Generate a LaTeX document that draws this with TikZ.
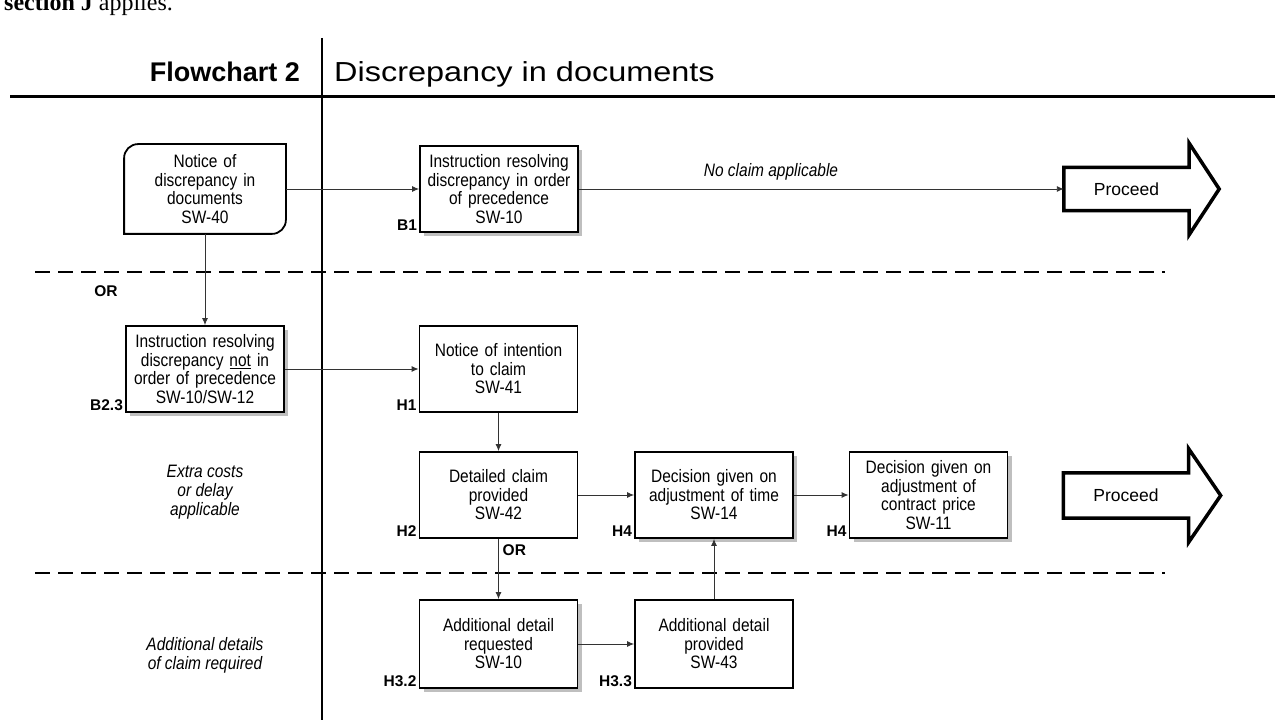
\documentclass[tikz,border=0pt]{standalone}
\usepackage{fontspec}
\setmainfont{Liberation Sans}
\newfontfamily\boxfont{Liberation Sans}[FakeStretch=0.86]
\newfontfamily\titlefont{Liberation Sans}[FakeStretch=1.18]
\newfontfamily\bookfont{Liberation Serif}
\usetikzlibrary{arrows.meta,shadows,positioning}

\begin{document}
\begin{tikzpicture}[x=1pt,y=1pt,
    box/.style={draw,line width=1.8pt,fill=white,minimum width=158pt,minimum height=86pt,
      text width=154pt,align=center,inner sep=0pt,font=\boxfont\fontsize{18}{18.5}\selectfont},
    shbox/.style={box,drop shadow={shadow xshift=4pt,shadow yshift=-4pt,fill=black!50}},
    tag/.style={font=\bfseries\fontsize{15.5}{15.5}\selectfont,inner sep=1pt},
    note/.style={font=\boxfont\itshape\fontsize{18}{19}\selectfont,align=center},
    conn/.style={-{Latex[length=7pt,width=6pt]},line width=0.9pt,black!80},
    sep/.style={line width=2.5pt,dash pattern=on 15pt off 8pt},
    go/.style={minimum width=125pt,minimum height=43pt,inner sep=0pt,font=\fontsize{17.5}{18}\selectfont},
    goline/.style={line width=3.5pt,line join=miter}]

  \useasboundingbox (0,0) rectangle (1281,720);

  % heading
  \node[anchor=base west,inner sep=0pt,font=\bookfont\fontsize{24}{26}\selectfont] (intro) at (4,709) {\textbf{section J} applies.};
  \node[anchor=base east,inner sep=0pt,font=\bfseries\fontsize{27}{28}\selectfont] (chartno) at (300,638) {Flowchart 2};
  \node[anchor=base west,inner sep=0pt,font=\titlefont\fontsize{27.5}{28}\selectfont] (charttitle) at (334,638) {Discrepancy in documents};
  \coordinate (topv) at (322,682);
  \coordinate (botv) at (322,0);
  \coordinate (lefth) at (10,623);
  \coordinate (righth) at (1275,623);
  \draw[line width=2.8pt] (topv) -- (botv);
  \draw[line width=3pt] (lefth) -- (righth);

  % band separators
  \coordinate (sepa) at (35,448);
  \coordinate (sepb) at (1165,448);
  \coordinate (sepc) at (35,147);
  \coordinate (sepd) at (1165,147);
  \draw[sep] (sepa) -- (sepb);
  \draw[sep] (sepc) -- (sepd);

  % first band
  \node[box,draw=none,minimum width=160pt,minimum height=88pt] (notice) at (205,531)
    {Notice of\\discrepancy in\\documents\\SW-40};
  \draw[line width=1.8pt] (notice.north east) -- ([xshift=14pt]notice.north west)
    arc[start angle=90,end angle=180,radius=14pt] -- (notice.south west)
    -- ([xshift=-14pt]notice.south east) arc[start angle=270,end angle=360,radius=14pt] -- cycle;
  \node[shbox] (b1) at (499,531) {Instruction resolving\\discrepancy in order\\of precedence\\SW-10};
  \node[tag,anchor=base east] (b1tag) at ([xshift=-1pt,yshift=2pt]b1.south west) {B1};
  \node[go] (go1) at (1126.5,531) {Proceed};
  \draw[goline] (go1.south west) -- (go1.north west) -- (go1.north east) -- ([yshift=24pt]go1.north east)
    -- ([xshift=30pt]go1.east) -- ([yshift=-24pt]go1.south east) -- (go1.south east) -- cycle;
  \node[note,anchor=base] (noclaim) at (771,543) {No claim applicable};
  \draw[conn] (notice) -- (b1);
  \draw[conn] (b1) -- (go1);

  % second band
  \node[tag] (or1) at (106,429) {OR};
  \node[shbox] (b23) at (205,351) {Instruction resolving\\discrepancy \underline{not} in\\order of precedence\\SW-10/SW-12};
  \node[tag,anchor=base east] (b23tag) at ([xshift=-1pt,yshift=2pt]b23.south west) {B2.3};
  \node[box] (h1) at (498.5,351) {Notice of intention\\to claim\\SW-41};
  \node[tag,anchor=base east] (h1tag) at ([xshift=-1pt,yshift=2pt]h1.south west) {H1};
  \node[box] (h2) at (498.5,225) {Detailed claim\\provided\\SW-42};
  \node[tag,anchor=base east] (h2tag) at ([xshift=-1pt,yshift=2pt]h2.south west) {H2};
  \node[shbox] (h4a) at (714,225) {Decision given on\\adjustment of time\\SW-14};
  \node[tag,anchor=base east] (h4atag) at ([xshift=-1pt,yshift=2pt]h4a.south west) {H4};
  \node[shbox] (h4b) at (928.5,225) {Decision given on\\adjustment of\\contract price\\SW-11};
  \node[tag,anchor=base east] (h4btag) at ([xshift=-1pt,yshift=2pt]h4b.south west) {H4};
  \node[go,minimum height=45pt] (go2) at (1126,224.5) {Proceed};
  \draw[goline] (go2.south west) -- (go2.north west) -- (go2.north east) -- ([yshift=24pt]go2.north east)
    -- ([xshift=32pt]go2.east) -- ([yshift=-24pt]go2.south east) -- (go2.south east) -- cycle;
  \node[note] (extra) at (205,228) {Extra costs\\or delay\\applicable};
  \draw[conn] (notice) -- (b23);
  \draw[conn] (b23) -- (h1);
  \draw[conn] (h1) -- (h2);
  \draw[conn] (h2) -- (h4a);
  \draw[conn] (h4a) -- (h4b);

  % third band
  \node[tag,anchor=west] (or2) at ([xshift=3pt,yshift=-11pt]h2.south) {OR};
  \node[shbox,minimum height=88pt] (h32) at (498.5,76) {Additional detail\\requested\\SW-10};
  \node[tag,anchor=base east] (h32tag) at ([xshift=-1pt,yshift=2pt]h32.south west) {H3.2};
  \node[box,minimum height=88pt] (h33) at (714,76) {Additional detail\\provided\\SW-43};
  \node[tag,anchor=base east] (h33tag) at ([xshift=-1pt,yshift=2pt]h33.south west) {H3.3};
  \node[note] (moredet) at (205,65) {Additional details\\of claim required};
  \draw[conn] (h2) -- (h32);
  \draw[conn] (h32) -- (h33);
  \draw[conn] (h33) -- (h4a);
\end{tikzpicture}
\end{document}
